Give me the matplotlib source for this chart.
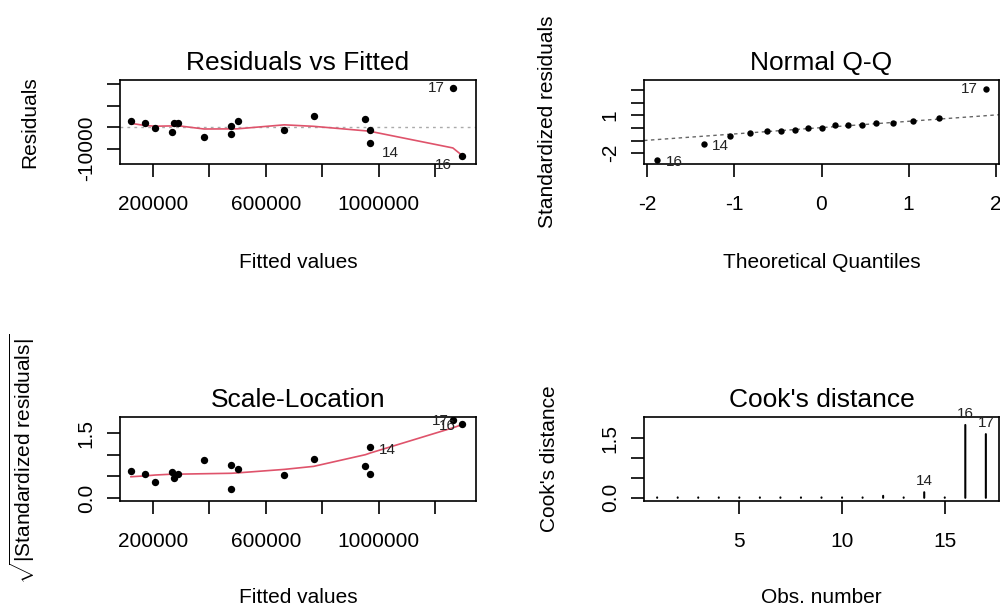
import matplotlib
matplotlib.use('Agg')
import matplotlib.pyplot as plt
from matplotlib.ticker import FixedLocator, FixedFormatter

plt.rcParams['font.family'] = ['Liberation Sans', 'DejaVu Sans']
plt.rcParams['mathtext.fontset'] = 'custom'
plt.rcParams['mathtext.rm'] = 'Liberation Sans'
plt.rcParams['mathtext.it'] = 'Liberation Sans:italic'
plt.rcParams['mathtext.bf'] = 'Liberation Sans:bold'

# ---------------- data ----------------
obs = list(range(1, 18))
fitted = [121800, 171600, 208200, 268600, 274600, 289900, 381200, 476000, 477100,
          500900, 665300, 769500, 953100, 970900, 970900, 1294000, 1263000]
residuals = [3050, 1970, -560, -2110, 1970, 1970, -4460, 380, -3190,
             3050, -1170, 5070, 3660, -7610, -1170, -13240, 18080]
sqrt_std_resid = [0.63, 0.55, 0.36, 0.61, 0.47, 0.55, 0.87, 0.21, 0.76,
                  0.67, 0.52, 0.91, 0.74, 1.18, 0.55, 1.70, 1.81]
cooks = [0.01, 0.01, 0.01, 0.01, 0.01, 0.01, 0.01, 0.01, 0.01,
         0.01, 0.01, 0.05, 0.01, 0.14, 0.01, 1.83, 1.60]

smooth_x = [121800, 171600, 208200, 268600, 274600, 289900, 381200, 476000,
            477100, 500900, 665300, 769500, 953100, 970900, 1263000, 1294000]
resid_smooth = [1800, 800, 450, 600, 650, 650, -850, -800,
                -800, -750, 1100, 400, -1700, -1970, -9700, -13000]
scale_smooth = [0.49, 0.51, 0.53, 0.55, 0.55, 0.55, 0.56, 0.57,
                0.57, 0.58, 0.66, 0.73, 1.00, 1.04, 1.62, 1.69]

qq_theoretical = [-1.89, -1.35, -1.05, -0.82, -0.63, -0.46, -0.30, -0.15, 0.0,
                  0.15, 0.30, 0.46, 0.63, 0.82, 1.05, 1.35, 1.89]
qq_sample = [-2.56, -1.24, -0.66, -0.40, -0.26, -0.26, -0.13, 0.0, 0.0,
             0.26, 0.26, 0.26, 0.40, 0.40, 0.56, 0.82, 3.12]
qq_labels = {0: '16', 1: '14', 16: '17'}
qq_line_intercept = 0.03
qq_line_slope = 0.50

fitted_ticks = [200000, 400000, 600000, 800000, 1000000, 1200000]
fitted_ticklabels = ['200000', '', '600000', '', '1000000', '']
resid_ticks = [-10000, 0, 10000, 20000]
resid_ticklabels = ['-10000', '', '', '']
qq_xticks = [-2, -1, 0, 1, 2]
qq_xticklabels = ['-2', '-1', '0', '1', '2']
qq_yticks = [-2, -1, 0, 1, 2, 3]
qq_yticklabels = ['-2', '', '', '1', '', '']
sl_yticks = [0.0, 0.5, 1.0, 1.5]
sl_yticklabels = ['0.0', '', '', '1.5']
cook_xticks = [5, 10, 15]
cook_xticklabels = ['5', '10', '15']
cook_yticks = [0.0, 0.5, 1.0, 1.5]
cook_yticklabels = ['0.0', '', '', '1.5']

# ---------------- layout ----------------
W, H = 1000, 610
fig = plt.figure(figsize=(W / 100, H / 100), dpi=100)


def px_axes(x0, y0, x1, y1):
    return fig.add_axes([x0 / W, 1 - y1 / H, (x1 - x0) / W, (y1 - y0) / H])


RED = '#DF536B'
TICK_FS = 15
TITLE_FS = 19
ID_FS = 11
ID_COLOR = '#222222'


def style(ax, title, xlabel, ylabel, xt, xtl, yt, ytl, xlab_y, ylab_x):
    for s in ax.spines.values():
        s.set_linewidth(1.2)
    ax.xaxis.set_major_locator(FixedLocator(xt))
    ax.xaxis.set_major_formatter(FixedFormatter(xtl))
    ax.yaxis.set_major_locator(FixedLocator(yt))
    ax.yaxis.set_major_formatter(FixedFormatter(ytl))
    ax.tick_params(axis='both', direction='out', length=9.5, width=1.2,
                   labelsize=TICK_FS)
    ax.tick_params(axis='x', pad=13)
    ax.tick_params(axis='y', pad=8, labelrotation=90)
    plt.setp(ax.get_yticklabels(), va='center')
    ax.set_title(title, fontsize=TITLE_FS, pad=7.5)
    ax.set_xlabel(xlabel, fontsize=TICK_FS)
    ax.set_ylabel(ylabel, fontsize=TICK_FS)
    ax.xaxis.set_label_coords(0.5, xlab_y)
    ax.xaxis.label.set_va('center')
    ax.yaxis.set_label_coords(ylab_x, 0.5)
    ax.yaxis.label.set_va('center')


# Panel 1: Residuals vs Fitted
ax1 = px_axes(120, 80, 476, 164)
ax1.set_xlim(83000, 1345000)
ax1.set_ylim(-17200, 22040)
ax1.axhline(0, color='#AAAAAA', lw=1.0, ls=(0, (2, 3)))
ax1.plot(smooth_x, resid_smooth, color=RED, lw=1.2)
ax1.plot(fitted, residuals, 'o', color='black', ms=5.3, mew=0)
for i, dx, dy, ha in [(16, -6, 0, 'right'), (13, 8, -7, 'left'), (15, -7, -7, 'right')]:
    ax1.annotate(str(obs[i]), (fitted[i], residuals[i]), xytext=(dx, dy),
                 textcoords='offset points', ha=ha, va='center', fontsize=ID_FS,
                 color=ID_COLOR)
style(ax1, 'Residuals vs Fitted', 'Fitted values', 'Residuals',
      fitted_ticks, fitted_ticklabels, resid_ticks, resid_ticklabels,
      -1.167, -0.253)

# Panel 2: Normal Q-Q
ax2 = px_axes(644, 80, 999, 164)
ax2.set_xlim(-2.04, 2.04)
ax2.set_ylim(-2.85, 3.80)
ax2.axline((0, qq_line_intercept), slope=qq_line_slope, color='#666666', lw=1.0,
           ls=(0, (2.5, 2.5)))
ax2.plot(qq_theoretical, qq_sample, 'o', color='black', ms=4.6, mew=0)
for i, lab in qq_labels.items():
    if i == 16:
        dx, dy, ha = -6, 0, 'right'
    else:
        dx, dy, ha = 6, -1.5, 'left'
    ax2.annotate(lab, (qq_theoretical[i], qq_sample[i]), xytext=(dx, dy),
                 textcoords='offset points', ha=ha, va='center', fontsize=ID_FS,
                 color=ID_COLOR)
style(ax2, 'Normal Q-Q', 'Theoretical Quantiles', 'Standardized residuals',
      qq_xticks, qq_xticklabels, qq_yticks, qq_yticklabels, -1.167, -0.271)

# Panel 3: Scale-Location
ax3 = px_axes(120, 417, 476, 501)
ax3.set_xlim(83000, 1345000)
ax3.set_ylim(-0.07, 1.87)
ax3.plot(smooth_x, scale_smooth, color=RED, lw=1.2)
ax3.plot(fitted, sqrt_std_resid, 'o', color='black', ms=5.3, mew=0)
for i, dx, dy, ha in [(13, 6, -2, 'left'), (16, -3, -1, 'right'), (15, -4, -1, 'right')]:
    ax3.annotate(str(obs[i]), (fitted[i], sqrt_std_resid[i]), xytext=(dx, dy),
                 textcoords='offset points', ha=ha, va='center', fontsize=ID_FS,
                 color=ID_COLOR)
style(ax3, 'Scale-Location', 'Fitted values',
      r'$\sqrt{|\mathrm{Standardized\ residuals}|}$',
      fitted_ticks, fitted_ticklabels, sl_yticks, sl_yticklabels, -1.143, -0.275)

# Panel 4: Cook's distance
ax4 = px_axes(644, 417, 999, 501)
ax4.set_xlim(0.36, 17.64)
ax4.set_ylim(-0.08, 2.03)
vl = ax4.vlines(obs, 0, cooks, color='black', lw=1.5)
vl.set_capstyle('round')
vl.set_snap(False)
for i in (13, 15, 16):
    ax4.annotate(str(obs[i]), (obs[i], cooks[i]), xytext=(0, 3),
                 textcoords='offset points', ha='center', va='bottom',
                 fontsize=ID_FS, color=ID_COLOR)
style(ax4, "Cook's distance", 'Obs. number', "Cook's distance",
      cook_xticks, cook_xticklabels, cook_yticks, cook_yticklabels, -1.143, -0.266)

fig.savefig('out.png', dpi=100)
